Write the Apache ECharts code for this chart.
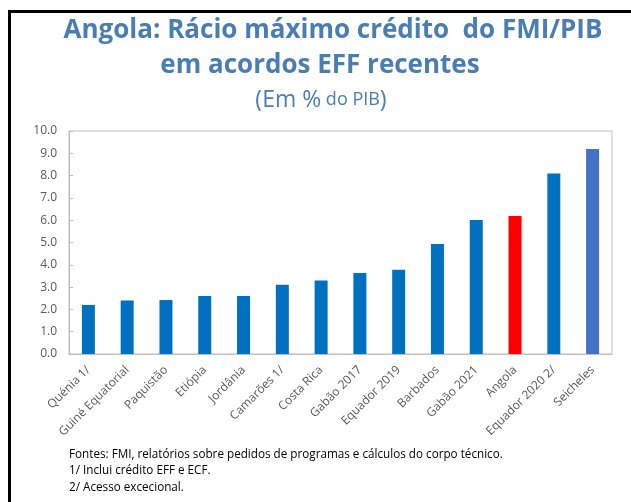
<!DOCTYPE html>
<html lang="pt">
<head>
    <meta charset="UTF-8">
    <title>Angola: Rácio máximo crédito do FMI/PIB</title>
    <script src="https://cdn.jsdelivr.net/npm/echarts@6/dist/echarts.min.js"></script>
    <style>
        html, body { margin: 0; padding: 0; background: #fff; }
        #chart { width: 631px; height: 502px; }
    </style>
</head>
<body>
<div id="chart"></div>
<script type="text/javascript">
    // dados
    var paises = ['Quénia 1/', 'Guiné Equatorial', 'Paquistão', 'Etiópia', 'Jordânia', 'Camarões 1/',
        'Costa Rica', 'Gabão 2017', 'Equador 2019', 'Barbados', 'Gabão 2021', 'Angola',
        'Equador 2020 2/', 'Seicheles'];
    var valores = [2.2, 2.4, 2.42, 2.6, 2.6, 3.1, 3.3, 3.63, 3.78, 4.93, 6.01, 6.19, 8.09, 9.19];
    var cores = ['#0070C0', '#0070C0', '#0070C0', '#0070C0', '#0070C0', '#0070C0', '#0070C0',
        '#0070C0', '#0070C0', '#0070C0', '#0070C0', '#FF0000', '#0070C0', '#4472C4'];
    var notas = [
        'Fontes: FMI, relatórios sobre pedidos de programas e cálculos do corpo técnico.',
        '1/ Inclui crédito EFF e ECF.',
        '2/ Acesso excecional.'
    ];

    var font = '"Open Sans", "Noto Sans", sans-serif';
    var corTitulo = '#4A7EB0';

    var myChart = echarts.init(document.getElementById('chart'));

    var option = {
        backgroundColor: '#fff',
        animation: false,
        graphic: [
            { type: 'rect', shape: { x: 8, y: 10, width: 623, height: 3 }, style: { fill: '#000' } },
            { type: 'rect', shape: { x: 8, y: 10, width: 3, height: 492 }, style: { fill: '#000' } },
            // titulo
            {
                type: 'text', x: 333, y: 31,
                style: {
                    text: 'Angola: Rácio máximo crédito  do FMI/PIB', font: 'bold 26px ' + font,
                    fill: corTitulo, align: 'center', verticalAlign: 'middle'
                }
            },
            {
                type: 'text', x: 320, y: 66,
                style: {
                    text: 'em acordos EFF recentes', font: 'bold 26px ' + font,
                    fill: corTitulo, align: 'center', verticalAlign: 'middle'
                }
            },
            {
                type: 'text', x: 321, y: 100,
                style: {
                    text: '{a|(Em %}{b| do PIB}{a|)}', align: 'center', verticalAlign: 'middle',
                    rich: {
                        a: { font: '23px ' + font, fill: corTitulo },
                        b: { font: '18px ' + font, fill: corTitulo }
                    }
                }
            },
            {
                type: 'text', left: 69, top: 446,
                style: { text: notas.join('\n'), font: '11.7px ' + font, fill: '#000', lineHeight: 16.5 }
            }
        ],
        grid: {
            left: 69, right: 19, top: 131, bottom: 148,
            show: true, borderColor: '#BFBFBF', borderWidth: 1
        },
        xAxis: {
            type: 'category',
            data: paises,
            axisLine: { lineStyle: { color: '#BFBFBF' } },
            axisTick: { inside: true, length: 4, lineStyle: { color: '#BFBFBF' } },
            axisLabel: {
                rotate: 45, interval: 0, fontFamily: font, fontSize: 12, color: '#595959', margin: 14
            }
        },
        yAxis: {
            type: 'value',
            min: 0, max: 10, interval: 1,
            axisLine: { show: true, lineStyle: { color: '#BFBFBF' } },
            axisTick: { show: true, inside: true, length: 4, lineStyle: { color: '#BFBFBF' } },
            splitLine: { show: false },
            axisLabel: {
                fontFamily: font, fontSize: 12, color: '#595959', margin: 12,
                formatter: function (v) { return v.toFixed(1); }
            }
        },
        series: [
            {
                type: 'bar',
                barWidth: 13,
                data: valores.map(function (v, i) {
                    return { value: v, itemStyle: { color: cores[i] } };
                })
            }
        ]
    };

    myChart.setOption(option);
</script>
</body>
</html>
